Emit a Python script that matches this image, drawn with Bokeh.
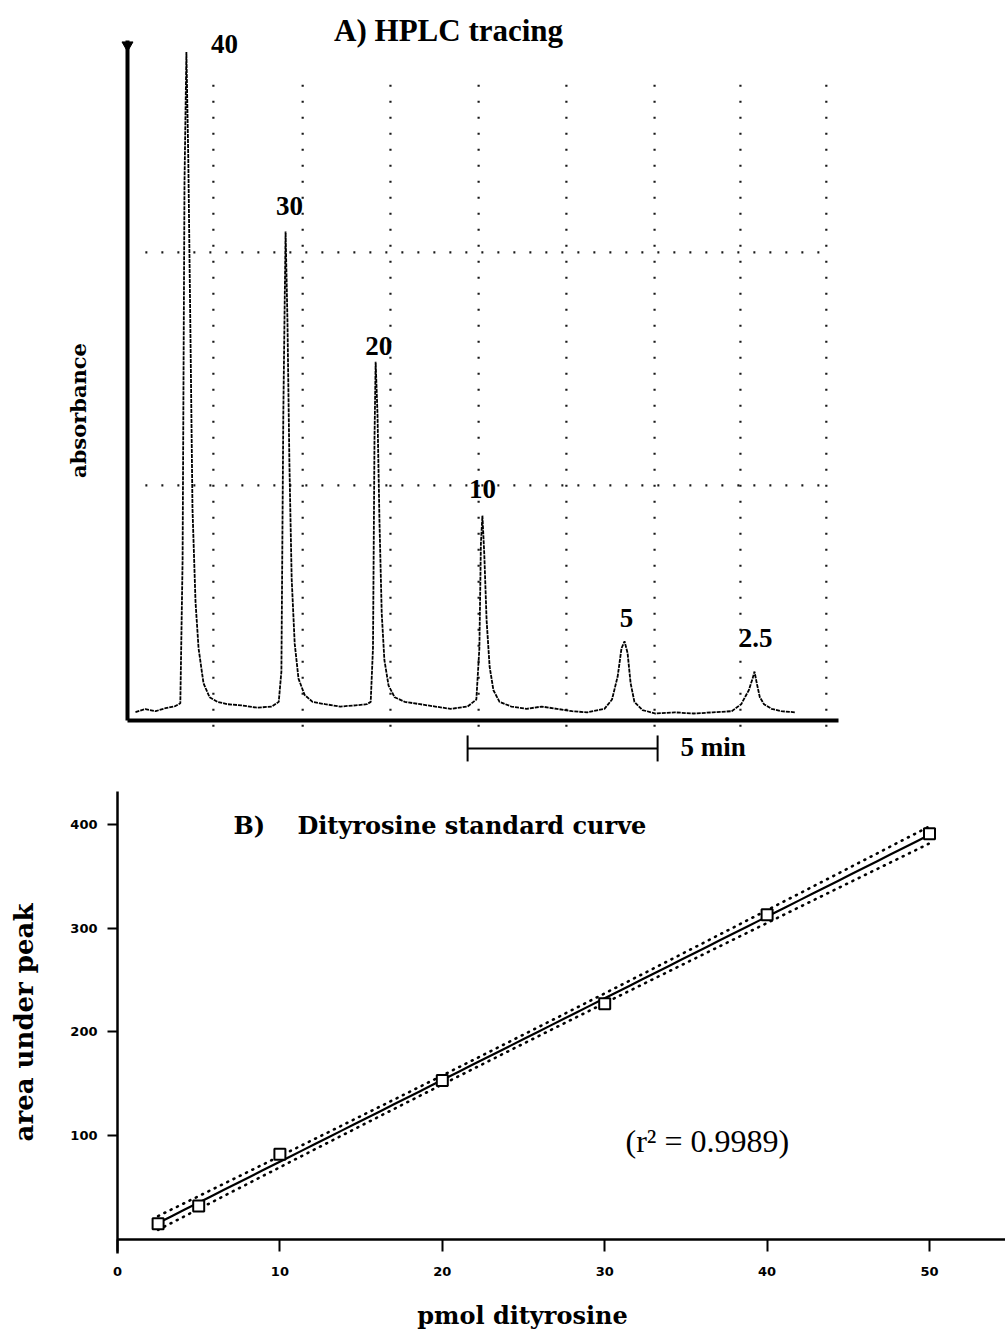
import numpy as np
from bokeh.plotting import figure
from bokeh.models import Range1d, FixedTicker, Label, Arrow, TeeHead
from bokeh.layouts import column
from bokeh.embed import file_html
from bokeh.resources import INLINE

# ---------------- Panel A data (time in min, absorbance arbitrary units) ----------------
trace_time = [0.21, 0.47, 0.74, 1.00, 1.26, 1.39,
              1.45, 1.50, 1.55, 1.60, 1.66, 1.71, 1.79, 1.87, 2.00, 2.16, 2.37, 2.63, 3.00, 3.42, 3.80, 3.98,
              4.05, 4.10, 4.16, 4.21, 4.26, 4.32, 4.40, 4.50, 4.66, 4.87, 5.20, 5.60, 6.00, 6.30, 6.40,
              6.46, 6.50, 6.53, 6.58, 6.63, 6.69, 6.76, 6.87, 7.03, 7.30, 7.70, 8.10, 8.50, 8.95, 9.18,
              9.26, 9.30, 9.34, 9.39, 9.45, 9.53, 9.63, 9.79, 10.10, 10.50, 10.90, 11.30, 11.70, 12.10, 12.55, 12.75,
              12.90, 13.00, 13.08, 13.16, 13.24, 13.34, 13.55, 13.90, 14.40, 14.90, 15.40, 15.90, 16.15, 16.35,
              16.45, 16.50, 16.56, 16.64, 16.75, 16.95, 17.20, 17.58]
trace_abs = [0.026, 0.039, 0.030, 0.043, 0.052, 0.064,
             0.68, 2.30, 2.86, 2.40, 1.60, 0.90, 0.50, 0.30, 0.15, 0.09, 0.07, 0.06, 0.055, 0.045, 0.05, 0.07,
             0.20, 1.30, 2.09, 1.70, 1.10, 0.60, 0.32, 0.17, 0.10, 0.07, 0.06, 0.05, 0.055, 0.06, 0.07,
             0.30, 1.20, 1.53, 1.30, 0.85, 0.45, 0.25, 0.14, 0.09, 0.07, 0.06, 0.05, 0.04, 0.05, 0.08,
             0.30, 0.75, 0.87, 0.70, 0.42, 0.22, 0.12, 0.07, 0.05, 0.04, 0.05, 0.04, 0.03, 0.025, 0.04, 0.08,
             0.18, 0.30, 0.33, 0.28, 0.15, 0.07, 0.035, 0.02, 0.025, 0.02, 0.025, 0.03, 0.06, 0.12,
             0.17, 0.20, 0.15, 0.09, 0.06, 0.04, 0.03, 0.025]
peak_labels = ["40", "30", "20", "10", "5", "2.5"]
peak_label_time = [2.55, 4.26, 6.61, 9.34, 13.13, 16.53]
peak_label_abs = [2.893, 2.201, 1.600, 0.986, 0.432, 0.346]
grid_time = [2.26, 4.61, 6.92, 9.24, 11.55, 13.87, 16.13, 18.39]
grid_abs = [1, 2]
time_axis_end = 18.71
abs_axis_end = 2.91
scale_start = 8.95
scale_minutes = 5

# ---------------- Panel B data ----------------
pmol = [2.5, 5, 10, 20, 30, 40, 50]
area = [15, 32, 82, 153, 227, 313, 391]
x_ticks_b = [0, 10, 20, 30, 40, 50]
y_ticks_b = [100, 200, 300, 400]

TIMES = "Liberation Serif"
CENTURY = "DejaVu Serif"
INK = "black"

# ======================= Panel A =======================
pA = figure(width=1005, height=780, x_range=Range1d(-3.3421, 23.1053), y_range=Range1d(-0.2676, 3.0815),
            output_backend="svg", toolbar_location=None, min_border=0)
pA.title.visible = False
pA.outline_line_color = None
pA.grid.visible = False
for ax in (pA.xaxis[0], pA.yaxis[0]):
    ax.ticker = FixedTicker(ticks=[])
    ax.axis_line_width = 4
    ax.axis_line_color = INK
    ax.major_tick_out = 0
    ax.major_tick_in = 0
    ax.minor_tick_line_color = None
    ax.major_tick_line_color = None
    ax.major_label_standoff = 0
pA.xaxis.fixed_location = -0.01
pA.xaxis.bounds = (0, time_axis_end)
pA.yaxis.fixed_location = 0
pA.yaxis.bounds = (-0.01, abs_axis_end)

pA.add_layout(Label(x=-1.29, y=1.321, text="absorbance", angle=np.pi / 2, text_font=CENTURY,
                    text_font_style="bold", text_font_size="21px", text_color=INK,
                    text_align="center", text_baseline="middle"))

# dotted grid
pA.segment(x0=grid_time, y0=[2.72] * len(grid_time), x1=grid_time, y1=[-0.05] * len(grid_time),
           line_color=INK, line_width=2.2, line_dash="2 14", line_alpha=0.9)
pA.segment(x0=[0.47] * len(grid_abs), y0=grid_abs, x1=[18.5] * len(grid_abs), y1=grid_abs,
           line_color=INK, line_width=2.2, line_dash="2 14", line_alpha=0.9)

pA.line(trace_time, trace_abs, line_color=INK, line_width=1.8, line_dash="4 1")
pA.scatter([0.0], [abs_axis_end - 0.02], marker="inverted_triangle", size=11, color=INK)

for t, a, s in zip(peak_label_time, peak_label_abs, peak_labels):
    pA.add_layout(Label(x=t, y=a, text=s, text_font=TIMES, text_font_style="bold", text_color=INK,
                        text_font_size="27px", text_align="center", text_baseline="middle"))

pA.add_layout(Label(x=8.45, y=2.953, text="A) HPLC tracing", text_font=TIMES, text_font_style="bold",
                    text_color=INK, text_font_size="31px", text_align="center", text_baseline="middle"))

pA.add_layout(Arrow(start=TeeHead(size=26, line_width=2), end=TeeHead(size=26, line_width=2),
                    x_start=scale_start, y_start=-0.13, x_end=scale_start + scale_minutes, y_end=-0.13,
                    line_width=2, line_color=INK))
pA.add_layout(Label(x=14.55, y=-0.122, text="5 min", text_font=TIMES, text_font_style="bold",
                    text_color=INK, text_font_size="27px", text_align="left", text_baseline="middle"))

# ======================= Panel B =======================
pB = figure(width=1005, height=553, x_range=Range1d(-7.2044, 54.6798), y_range=Range1d(-90.96, 442.46),
            output_backend="svg", toolbar_location=None, min_border=0)
pB.title.visible = False
pB.outline_line_color = None
pB.grid.visible = False

pB.xaxis.ticker = FixedTicker(ticks=x_ticks_b)
pB.yaxis.ticker = FixedTicker(ticks=y_ticks_b)
for ax in (pB.xaxis[0], pB.yaxis[0]):
    ax.axis_line_width = 2.5
    ax.axis_line_color = INK
    ax.major_tick_line_width = 2
    ax.major_tick_line_color = INK
    ax.minor_tick_line_color = None
    ax.major_tick_in = 0
    ax.major_label_text_font = "DejaVu Sans"
    ax.major_label_text_font_style = "bold"
    ax.major_label_text_font_size = "13px"
    ax.major_label_text_color = INK
    ax.axis_label_text_font = CENTURY
    ax.axis_label_text_font_style = "bold"
    ax.axis_label_text_color = INK
pB.xaxis.fixed_location = 0
pB.xaxis.bounds = (0, 54.68)
pB.xaxis.major_tick_out = 12
pB.xaxis.major_label_standoff = 16
pB.yaxis.fixed_location = 0
pB.yaxis.bounds = (-14, 432)
pB.yaxis.major_tick_out = 10
pB.yaxis.major_label_standoff = 10
pB.yaxis.axis_label = "area under peak"
pB.yaxis.axis_label_text_font_size = "26px"
pB.yaxis.axis_label_standoff = 28

pB.add_layout(Label(x=24.94, y=-73.6, text="pmol dityrosine", text_font=CENTURY, text_font_style="bold",
                    text_color=INK, text_font_size="24px", text_align="center", text_baseline="middle"))

# linear regression with 95% confidence band, derived from the data
xa = np.array(pmol, dtype=float)
ya = np.array(area, dtype=float)
slope, intercept = np.polyfit(xa, ya, 1)
n = len(xa)
resid = ya - (slope * xa + intercept)
s = np.sqrt(np.sum(resid ** 2) / (n - 2))
sxx = np.sum((xa - xa.mean()) ** 2)
t975 = 2.571
xs = np.linspace(xa.min(), xa.max(), 60)
fit = slope * xs + intercept
half = t975 * s * np.sqrt(1.0 / n + (xs - xa.mean()) ** 2 / sxx)

pB.line(xs, fit + half, line_color=INK, line_width=2.6, line_dash="1 6", line_cap="round")
pB.line(xs, fit - half, line_color=INK, line_width=2.6, line_dash="1 6", line_cap="round")
pB.line(xs, fit, line_color=INK, line_width=2.2)
pB.scatter(pmol, area, marker="square", size=11, fill_color="white", line_color=INK, line_width=2)

pB.add_layout(Label(x=7.14, y=399.1, text="B)", text_font=CENTURY, text_font_style="bold", text_color=INK,
                    text_font_size="24px", text_align="left", text_baseline="middle"))
pB.add_layout(Label(x=11.08, y=399.1, text="Dityrosine standard curve", text_font=CENTURY, text_color=INK,
                    text_font_style="bold", text_font_size="24px", text_align="left", text_baseline="middle"))
pB.add_layout(Label(x=31.28, y=95.2, text="(r\u00b2 = 0.9989)", text_font=TIMES, text_color=INK,
                    text_font_size="32px", text_align="left", text_baseline="middle"))

layout = column(pA, pB, spacing=0)
open("out.html", "w").write(file_html(layout, INLINE))
